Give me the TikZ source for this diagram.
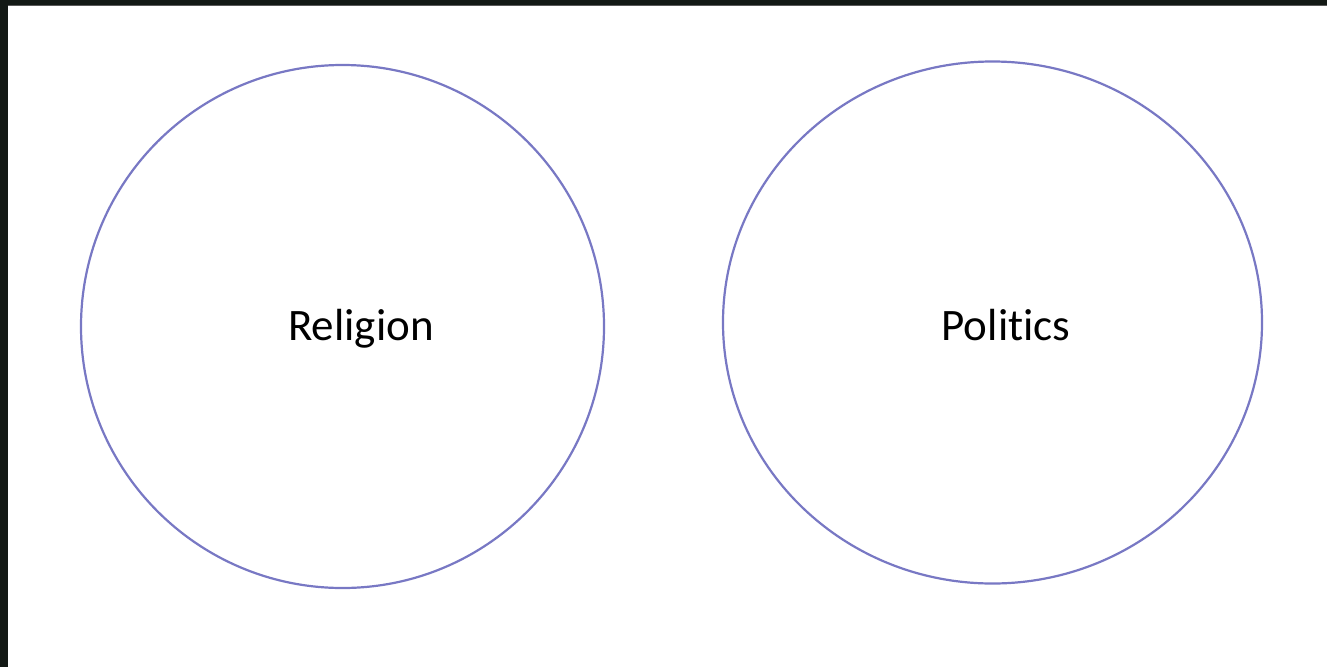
\documentclass[tikz,border=0pt]{standalone}
\usepackage{fontspec}
\setmainfont[Ligatures={NoCommon}]{Carlito}
\usetikzlibrary{shapes.geometric}
\definecolor{frame}{HTML}{131915}
\definecolor{ring}{HTML}{7878C4}
\tikzset{
  ringshape/.style={draw=ring, line width=2.2pt, ellipse, inner sep=0pt},
  label/.style={font=\fontsize{45}{54}\selectfont, text=black, inner sep=0pt, anchor=base}
}
\begin{document}
\begin{tikzpicture}[x=1pt,y=-1pt]
\useasboundingbox (0,0) rectangle (1327,667);
\fill[frame] (0,0) rectangle (1327,667);
\fill[white] (7.5,6) rectangle (1327,667);
\draw[gray!70!black, line width=1.2pt] (7.5,5.6) -- (1327,5.6);
\node[ringshape, minimum width=523pt, minimum height=523pt] (rel) at (342.5,326.5) {};
\node[ringshape, minimum width=539pt, minimum height=522pt] (pol) at (992.5,322.5) {};
\node[label] (reltext) at (361,340) {Religion};
\node[label] (poltext) at (1006,340) {Politics};
\end{tikzpicture}
\end{document}
